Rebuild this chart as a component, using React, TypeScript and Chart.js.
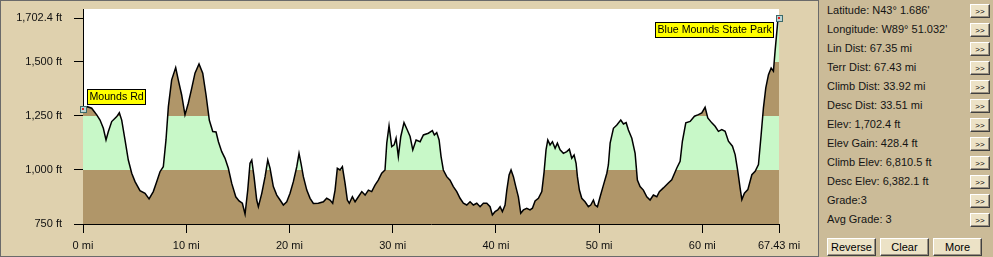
import React, { useEffect, useRef } from 'react';
import { Chart, registerables } from 'chart.js';

Chart.register(...registerables);

const miles = [
  0.0, 0.42, 0.84, 1.33, 1.65, 1.97, 2.23, 2.45, 2.78, 3.27, 3.52, 3.75, 4.07, 4.39, 4.72, 5.04, 5.52, 6.01, 6.4, 6.81,
  7.14, 7.46, 7.78, 8.04, 8.27, 8.59, 8.98, 9.23, 9.56, 9.88, 10.2, 10.53, 10.85, 11.24, 11.6, 11.92, 12.24, 12.57, 12.89, 13.12,
  13.44, 13.76, 14.08, 14.41, 14.8, 15.12, 15.44, 15.7, 15.96, 16.18, 16.35, 16.57, 16.83, 16.99, 17.32, 17.64, 17.9, 18.12, 18.44, 18.77,
  19.09, 19.41, 19.74, 20.06, 20.38, 20.71, 20.93, 21.12, 21.35, 21.68, 22.0, 22.32, 22.8, 23.29, 23.61, 23.93, 24.19, 24.42, 24.64, 24.9,
  25.13, 25.39, 25.61, 25.8, 26.1, 26.36, 26.68, 27.01, 27.33, 27.65, 27.97, 28.29, 28.61, 28.94, 29.26, 29.43, 29.65, 29.91, 30.14, 30.33,
  30.55, 30.79, 31.1, 31.42, 31.69, 31.95, 32.27, 32.66, 32.98, 33.46, 33.85, 34.04, 34.27, 34.5, 34.69, 34.91, 35.24, 35.56, 35.88, 36.21,
  36.53, 36.85, 37.18, 37.5, 37.82, 38.15, 38.47, 38.79, 39.12, 39.44, 39.66, 39.92, 40.18, 40.41, 40.63, 40.89, 41.06, 41.28, 41.47, 41.7,
  41.93, 42.18, 42.41, 42.67, 42.99, 43.31, 43.54, 43.8, 44.12, 44.45, 44.67, 44.86, 45.03, 45.25, 45.48, 45.74, 45.96, 46.22, 46.54, 46.87,
  47.12, 47.35, 47.58, 47.77, 47.9, 48.09, 48.32, 48.64, 48.96, 49.19, 49.45, 49.61, 49.84, 50.1, 50.42, 50.75, 50.9, 51.07, 51.39, 51.72,
  52.1, 52.36, 52.62, 52.84, 53.17, 53.49, 53.71, 53.97, 54.29, 54.62, 54.94, 55.26, 55.59, 55.84, 56.23, 56.71, 57.04, 57.53, 57.85, 58.07,
  58.4, 58.82, 59.24, 59.62, 59.95, 60.27, 60.53, 60.92, 61.24, 61.56, 61.89, 62.21, 62.53, 62.92, 63.18, 63.44, 63.66, 63.83, 64.08, 64.41,
  64.8, 65.12, 65.44, 65.7, 65.92, 66.15, 66.41, 66.67, 66.89, 67.05, 67.31, 67.43,
];

const elevFt = [
  1280, 1293, 1286, 1255, 1231, 1193, 1139, 1177, 1224, 1247, 1265, 1231, 1139, 1046, 985, 946, 904, 892, 866, 900,
  946, 992, 1015, 1139, 1293, 1417, 1474, 1417, 1347, 1255, 1309, 1378, 1448, 1491, 1448, 1347, 1230, 1178, 1176, 1131,
  1085, 1054, 1008, 938, 876, 857, 846, 796, 907, 1031, 1046, 969, 861, 830, 892, 969, 1046, 1008, 923, 884,
  861, 838, 853, 892, 946, 1015, 1077, 1031, 969, 907, 869, 845, 846, 853, 869, 861, 846, 907, 1008, 1000,
  1015, 938, 861, 846, 876, 853, 876, 900, 884, 907, 900, 930, 953, 985, 1000, 1124, 1204, 1108, 1116, 1147,
  1062, 1155, 1219, 1185, 1155, 1093, 1139, 1131, 1162, 1170, 1182, 1162, 1173, 1139, 1062, 1000, 969, 953, 923, 900,
  869, 846, 838, 853, 838, 846, 830, 846, 846, 830, 792, 807, 815, 830, 807, 838, 907, 977, 1000, 969,
  923, 876, 800, 815, 823, 815, 823, 857, 869, 900, 990, 1093, 1139, 1116, 1131, 1100, 1124, 1093, 1077, 1085,
  1096, 1054, 1069, 1031, 969, 907, 869, 853, 830, 838, 861, 838, 830, 876, 930, 985, 1023, 1124, 1193, 1208,
  1231, 1213, 1219, 1185, 1147, 1077, 953, 923, 907, 876, 861, 884, 876, 900, 917, 940, 955, 1009, 1040, 1133,
  1218, 1225, 1249, 1256, 1264, 1290, 1241, 1218, 1202, 1179, 1187, 1179, 1133, 1110, 1071, 994, 917, 863, 893, 909,
  978, 994, 1025, 1163, 1287, 1380, 1441, 1472, 1457, 1550, 1688, 1702.4,
];

const yTicks = [750, 1000, 1250, 1500, 1702.4];
const xTicks = [0, 10, 20, 30, 40, 50, 60, 67.43];
const bandEdges = [750, 1000, 1250, 1500, 1745];
const bandColors = ['#b09669', '#c8f8c8', '#b09669', '#c8f8c8'];

const statLines = [
  "Latitude: N43° 1.686'",
  "Longitude: W89° 51.032'",
  'Lin Dist: 67.35 mi',
  'Terr Dist: 67.43 mi',
  'Climb Dist: 33.92 mi',
  'Desc Dist: 33.51 mi',
  'Elev: 1,702.4 ft',
  'Elev Gain: 428.4 ft',
  'Climb Elev: 6,810.5 ft',
  'Desc Elev: 6,382.1 ft',
  'Grade:3',
  'Avg Grade: 3',
];
const bottomButtons = ['Reverse', 'Clear', 'More'];
const placeNames = ['Mounds Rd', 'Blue Mounds State Park'];
const placeIndex = [0, miles.length - 1];

const FONT = 'Arial, "Liberation Sans", sans-serif';

const bgPlugin = {
  id: 'plotBg',
  beforeDraw(chart: any) {
    const { ctx, chartArea } = chart;
    ctx.save();
    ctx.fillStyle = '#ffffff';
    ctx.fillRect(chartArea.left, chartArea.top, chartArea.right - chartArea.left, chartArea.bottom - chartArea.top);
    ctx.restore();
  },
};

const labelPlugin = {
  id: 'placeLabels',
  afterDatasetsDraw(chart: any) {
    const { ctx } = chart;
    const xs = chart.scales.x;
    const ys = chart.scales.y;
    ctx.save();
    ctx.font = `10.6px ${FONT}`;
    placeNames.forEach((name, k) => {
      const i = placeIndex[k];
      const px = xs.getPixelForValue(miles[i]);
      const py = ys.getPixelForValue(elevFt[i]);
      const tw = ctx.measureText(name).width;
      const w = Math.round(tw + 5);
      const h = 16;
      let bx: number, by: number;
      if (k === 0) {
        bx = Math.round(px + 4);
        by = Math.round(py - 20);
      } else {
        bx = Math.round(px - 5 - w);
        by = Math.round(py + 4);
      }
      ctx.fillStyle = '#ffff00';
      ctx.fillRect(bx, by, w, h);
      ctx.strokeStyle = '#000';
      ctx.lineWidth = 1;
      ctx.strokeRect(bx + 0.5, by + 0.5, w - 1, h - 1);
      ctx.fillStyle = '#000';
      ctx.textBaseline = 'middle';
      ctx.textAlign = 'left';
      ctx.fillText(name, bx + 2.5, by + h / 2 + 0.5);
      ctx.fillStyle = '#bcd4d4';
      ctx.fillRect(Math.round(px) - 3, Math.round(py) - 3, 7, 7);
      ctx.strokeStyle = '#3c6a6a';
      ctx.strokeRect(Math.round(px) - 2.5, Math.round(py) - 2.5, 6, 6);
      ctx.fillStyle = '#e02020';
      ctx.fillRect(Math.round(px) - 1, Math.round(py) - 1, 2, 2);
    });
    ctx.restore();
  },
};

function ElevationChart() {
  const ref = useRef<HTMLCanvasElement | null>(null);
  useEffect(() => {
    if (!ref.current) return;
    const points = miles.map((m, i) => ({ x: m, y: elevFt[i] }));
    const chart = new Chart(ref.current, {
      type: 'line',
      data: {
        datasets: [
          {
            data: points,
            borderColor: '#000000',
            borderWidth: 1.5,
            pointRadius: 0,
            tension: 0,
            fill: 'start',
            backgroundColor: (c: any) => {
              const ch = c.chart;
              const area = ch.chartArea;
              if (!area) return bandColors[0];
              const ys = ch.scales.y;
              const g = ch.ctx.createLinearGradient(0, area.bottom, 0, area.top);
              const span = area.bottom - area.top;
              for (let b = 0; b < bandColors.length; b++) {
                const f0 = Math.min(1, Math.max(0, (area.bottom - ys.getPixelForValue(bandEdges[b])) / span));
                const f1 = Math.min(1, Math.max(0, (area.bottom - ys.getPixelForValue(bandEdges[b + 1])) / span));
                g.addColorStop(f0, bandColors[b]);
                g.addColorStop(f1, bandColors[b]);
              }
              return g;
            },
          },
        ],
      },
      options: {
        responsive: false,
        animation: false,
        events: [],
        layout: { padding: { left: 0, top: 9, right: 39, bottom: 0 } },
        plugins: { legend: { display: false }, tooltip: { enabled: false } },
        scales: {
          x: {
            type: 'linear',
            min: 0,
            max: 67.43,
            afterBuildTicks: (s: any) => {
              s.ticks = xTicks.map((v) => ({ value: v }));
            },
            afterFit: (s: any) => {
              s.height = 33;
              s.paddingLeft = 0;
              s.paddingRight = 0;
            },
            grid: { display: true, drawOnChartArea: false, drawTicks: true, tickLength: 9, color: '#000' },
            border: { display: true, color: '#000', width: 1 },
            ticks: {
              autoSkip: false,
              maxRotation: 0,
              padding: 6,
              color: '#101010',
              font: { family: FONT, size: 11 },
              callback: (v: any) => `${v} mi`,
            },
          },
          y: {
            type: 'linear',
            min: 750,
            max: 1745,
            afterBuildTicks: (s: any) => {
              s.ticks = yTicks.map((v) => ({ value: v }));
            },
            afterFit: (s: any) => {
              s.width = 83;
              s.paddingTop = 0;
              s.paddingBottom = 0;
            },
            grid: { display: true, drawOnChartArea: false, drawTicks: true, tickLength: 9, color: '#000' },
            border: { display: true, color: '#000', width: 1 },
            ticks: {
              autoSkip: false,
              padding: 12,
              color: '#101010',
              font: { family: FONT, size: 11 },
              callback: (v: any) => `${Number(v).toLocaleString('en-US')} ft`,
            },
          },
        },
      },
      plugins: [bgPlugin, labelPlugin],
    } as any);
    return () => chart.destroy();
  }, []);
  return <canvas ref={ref} width={818} height={257} style={{ position: 'absolute', left: 0, top: 0, width: 818, height: 257 }} />;
}

const btnStyle: React.CSSProperties = {
  position: 'absolute',
  boxSizing: 'border-box',
  background: '#ece2c6',
  borderTop: '1px solid #ffffff',
  borderLeft: '1px solid #ffffff',
  borderRight: '1px solid #404040',
  borderBottom: '1px solid #404040',
  boxShadow: 'inset -1px -1px 0 #9a9080',
  color: '#000',
  fontFamily: FONT,
  display: 'flex',
  alignItems: 'center',
  justifyContent: 'center',
};

export default function App() {
  useEffect(() => {
    document.body.style.margin = '0';
  }, []);
  return (
    <div style={{ position: 'relative', width: 993, height: 257, overflow: 'hidden', fontFamily: FONT }}>
      <div
        style={{
          position: 'absolute',
          left: 0,
          top: 0,
          width: 819,
          height: 257,
          boxSizing: 'border-box',
          background: '#dfd1ae',
          border: '1px solid #6a6a6a',
        }}
      />
      <ElevationChart />
      <div
        style={{
          position: 'absolute',
          left: 819,
          top: 0,
          width: 174,
          height: 257,
          background: '#cbbb98',
        }}
      />
      {statLines.map((t, i) => (
        <React.Fragment key={t}>
          <div
            style={{
              position: 'absolute',
              left: 827,
              top: 10 + 19 * i - 7,
              height: 14,
              lineHeight: '14px',
              fontSize: 11,
              color: '#141414',
              whiteSpace: 'nowrap',
            }}
          >
            {t}
          </div>
          <div style={{ ...btnStyle, left: 970, top: 10 + 19 * i - 6, width: 20, height: 14, fontSize: 8 }}>{'>>'}</div>
        </React.Fragment>
      ))}
      {bottomButtons.map((b, i) => (
        <div key={b} style={{ ...btnStyle, left: 827 + i * 53, top: 238, width: 49, height: 18, fontSize: 11 }}>
          {b}
        </div>
      ))}
    </div>
  );
}
